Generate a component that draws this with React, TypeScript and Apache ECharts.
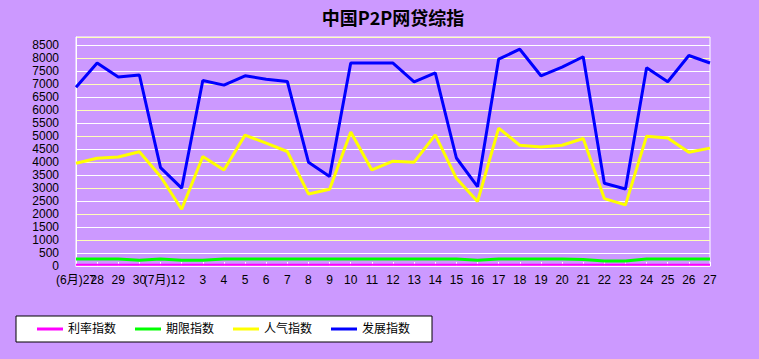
import React, { useEffect, useRef } from "react";
import * as echarts from "echarts";

const title = "中国P2P网贷综指";

const categories = [
  "(6月)27", "28", "29", "30", "(7月)1", "2", "3", "4", "5", "6", "7",
  "8", "9", "10", "11", "12", "13", "14", "15", "16", "17", "18",
  "19", "20", "21", "22", "23", "24", "25", "26", "27",
];

const rateIndex = [
  50, 50, 50, 50, 50, 50, 50, 50, 50, 50, 50,
  50, 50, 50, 50, 50, 50, 50, 50, 50, 50, 50,
  50, 50, 50, 50, 50, 50, 50, 50, 50,
];

const termIndex = [
  270, 270, 270, 220, 270, 220, 220, 270, 270, 270, 270,
  270, 270, 270, 270, 270, 270, 270, 270, 220, 270, 270,
  270, 270, 250, 195, 195, 270, 270, 270, 270,
];

const popularityIndex = [
  3950, 4140, 4190, 4390, 3440, 2180, 4210, 3690, 5030, 4720, 4400,
  2770, 2950, 5150, 3690, 4030, 3990, 5040, 3370, 2480, 5300, 4640,
  4570, 4640, 4900, 2590, 2350, 4990, 4920, 4370, 4530,
];

const developmentIndex = [
  6870, 7800, 7260, 7340, 3780, 2990, 7130, 6950, 7310, 7180, 7090,
  3990, 3440, 7800, 7800, 7800, 7080, 7420, 4150, 3050, 7950, 8330,
  7310, 7640, 8040, 3180, 2960, 7620, 7080, 8090, 7800,
];

const seriesNames = ["利率指数", "期限指数", "人气指数", "发展指数"];
const seriesColors = ["#FF00FF", "#00FF00", "#FFFF00", "#0000FF"];
const seriesData = [rateIndex, termIndex, popularityIndex, developmentIndex];
const seriesWidths = [2, 3, 3, 3];

const FONT = '"Liberation Sans", "Noto Sans CJK SC", sans-serif';

export default function App() {
  const ref = useRef<HTMLDivElement>(null);

  useEffect(() => {
    if (!ref.current) return;
    const chart = echarts.init(ref.current, null, { renderer: "svg" });
    chart.setOption({
      animation: false,
      backgroundColor: "#CC99FF",
      graphic: [
        {
          type: "text",
          x: 393,
          y: 17,
          style: {
            text: title,
            align: "center",
            verticalAlign: "middle",
            font: 'bold 18px "Noto Sans CJK SC", sans-serif',
            fill: "#000",
          },
        },
      ],
      grid: {
        left: 76,
        right: 49,
        top: 37,
        bottom: 93,
        show: true,
        borderColor: "#FFFFFF",
        borderWidth: 1,
        backgroundColor: "transparent",
      },
      legend: {
        left: 16,
        top: 316,
        orient: "horizontal",
        backgroundColor: "#FFFFFF",
        borderColor: "#000000",
        borderWidth: 1,
        borderRadius: 0,
        padding: [7, 22, 7, 21],
        itemGap: 19,
        itemWidth: 26,
        itemHeight: 3,
        icon: "rect",
        selectedMode: false,
        textStyle: { color: "#000", fontSize: 12, fontFamily: FONT },
        data: seriesNames,
      },
      xAxis: {
        type: "category",
        boundaryGap: false,
        data: categories,
        axisLine: { show: true, lineStyle: { color: "#FFFFFF", width: 1 } },
        axisTick: { show: true, inside: true, length: 4, lineStyle: { color: "#FFFFFF" } },
        axisLabel: {
          interval: 0,
          color: "#000",
          fontSize: 12,
          fontFamily: FONT,
          margin: 8,
        },
        splitLine: { show: false },
      },
      yAxis: {
        type: "value",
        min: 0,
        max: 8800,
        interval: 500,
        axisLine: { show: true, lineStyle: { color: "#FFFFFF", width: 1 } },
        axisTick: { show: false },
        axisLabel: {
          color: "#000",
          fontSize: 12,
          fontFamily: FONT,
          margin: 17,
          showMaxLabel: false,
          formatter: (v: number) => String(v),
        },
        splitLine: {
          show: true,
          lineStyle: { color: ["#FFFFB8", "#FFFFFF"], width: 1 },
        },
      },
      series: seriesNames.map((name, i) => ({
        name,
        type: "line",
        data: seriesData[i],
        symbol: "none",
        showSymbol: false,
        lineStyle: { color: seriesColors[i], width: seriesWidths[i] },
        itemStyle: { color: seriesColors[i] },
      })),
    });
    return () => chart.dispose();
  }, []);

  return (
    <div
      ref={ref}
      style={{ position: "fixed", left: 0, top: 0, width: 759, height: 359 }}
    />
  );
}
